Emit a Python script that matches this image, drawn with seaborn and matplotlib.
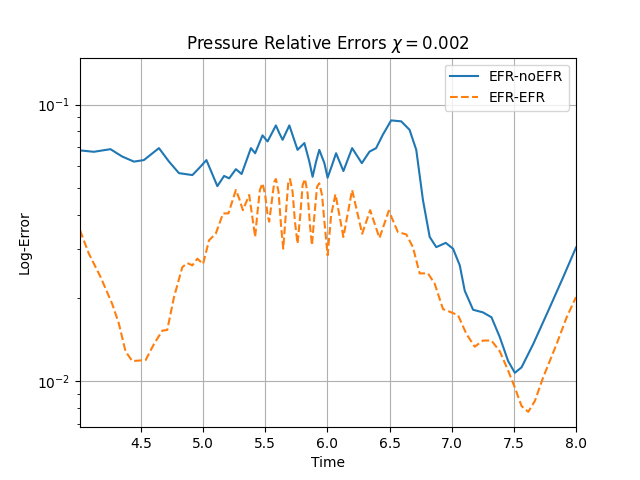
import numpy as np
import pandas as pd
import seaborn as sns
from matplotlib import pyplot as plt

# values
time_noefr = [4.01, 4.121, 4.255, 4.349, 4.444, 4.524, 4.645, 4.726, 4.806, 4.914,
              4.968, 5.027, 5.115, 5.169, 5.210, 5.264, 5.310, 5.385, 5.419, 5.478,
              5.519, 5.586, 5.613, 5.640, 5.694, 5.760, 5.815, 5.855, 5.881, 5.909,
              5.935, 5.976, 6.002, 6.038, 6.070, 6.129, 6.199, 6.277, 6.339, 6.392,
              6.446, 6.513, 6.594, 6.661, 6.715, 6.769, 6.823, 6.876, 6.952, 7.011,
              7.065, 7.105, 7.172, 7.252, 7.320, 7.387, 7.454, 7.508, 7.562, 7.656,
              7.790, 7.898, 8.000]
err_noefr = [0.0683, 0.0675, 0.0690, 0.0649, 0.0622, 0.0630, 0.0696, 0.0622, 0.0565, 0.0556,
             0.0589, 0.0630, 0.0507, 0.0552, 0.0541, 0.0584, 0.0561, 0.0696, 0.0667, 0.0774,
             0.0736, 0.0841, 0.0789, 0.0746, 0.0841, 0.0686, 0.0726, 0.0622, 0.0548, 0.0622,
             0.0686, 0.0614, 0.0544, 0.0605, 0.0667, 0.0575, 0.0696, 0.0614, 0.0676, 0.0696,
             0.0778, 0.0877, 0.0870, 0.0811, 0.0686, 0.0451, 0.0332, 0.0305, 0.0316, 0.0301,
             0.0262, 0.0212, 0.0181, 0.0177, 0.0170, 0.0144, 0.0118, 0.0107, 0.0112, 0.0136,
             0.0185, 0.0238, 0.0304]

time_efr = [4.01, 4.081, 4.175, 4.269, 4.323, 4.376, 4.430, 4.538, 4.605, 4.672,
            4.712, 4.766, 4.833, 4.873, 4.914, 4.954, 5.000, 5.048, 5.102, 5.161,
            5.204, 5.264, 5.290, 5.320, 5.371, 5.419, 5.438, 5.457, 5.478, 5.500,
            5.519, 5.532, 5.554, 5.573, 5.586, 5.607, 5.627, 5.645, 5.667, 5.685,
            5.699, 5.720, 5.739, 5.760, 5.782, 5.801, 5.820, 5.841, 5.860, 5.876,
            5.898, 5.917, 5.935, 5.957, 5.976, 6.002, 6.030, 6.065, 6.129, 6.199,
            6.280, 6.344, 6.419, 6.494, 6.567, 6.635, 6.688, 6.742, 6.809, 6.863,
            6.930, 6.997, 7.051, 7.118, 7.185, 7.252, 7.320, 7.387, 7.454, 7.508,
            7.562, 7.616, 7.669, 7.736, 7.844, 7.925, 8.000]
err_efr = [0.0351, 0.0289, 0.0238, 0.0190, 0.0161, 0.0128, 0.0118, 0.0119, 0.0136, 0.0152,
           0.0153, 0.0201, 0.0258, 0.0267, 0.0262, 0.0277, 0.0265, 0.0323, 0.0341, 0.0404,
           0.0404, 0.0491, 0.0458, 0.0415, 0.0471, 0.0332, 0.0409, 0.0491, 0.0519, 0.0471,
           0.0398, 0.0377, 0.0451, 0.0526, 0.0538, 0.0484, 0.0366, 0.0301, 0.0409, 0.0519,
           0.0538, 0.0484, 0.0377, 0.0314, 0.0398, 0.0512, 0.0538, 0.0477, 0.0366, 0.0310,
           0.0409, 0.0505, 0.0519, 0.0471, 0.0377, 0.0285, 0.0398, 0.0474, 0.0332, 0.0491,
           0.0341, 0.0415, 0.0329, 0.0413, 0.0346, 0.0339, 0.0305, 0.0245, 0.0245, 0.0225,
           0.0182, 0.0177, 0.0173, 0.0148, 0.0133, 0.0140, 0.0140, 0.0128, 0.0109, 0.00946,
           0.00811, 0.00773, 0.00846, 0.0103, 0.0136, 0.0170, 0.0201]

fig, ax = plt.subplots(figsize=(6.4, 4.8), dpi=100)

sns.lineplot(x=time_noefr, y=err_noefr, ax=ax, color="#1f77b4", linewidth=1.5,
             label="EFR-noEFR")
sns.lineplot(x=time_efr, y=err_efr, ax=ax, color="#ff7f0e", linewidth=1.5,
             linestyle="--", label="EFR-EFR")

ax.set_yscale("log")
ax.set_xlim(4.01, 8.0)
ax.set_ylim(0.0068, 0.148)
ax.grid(True)
ax.set_xlabel("Time")
ax.set_ylabel("Log-Error")
ax.set_title(r"Pressure Relative Errors $\chi = 0.002$")
ax.legend(loc="upper right")

fig.savefig("out.png", dpi=100)
